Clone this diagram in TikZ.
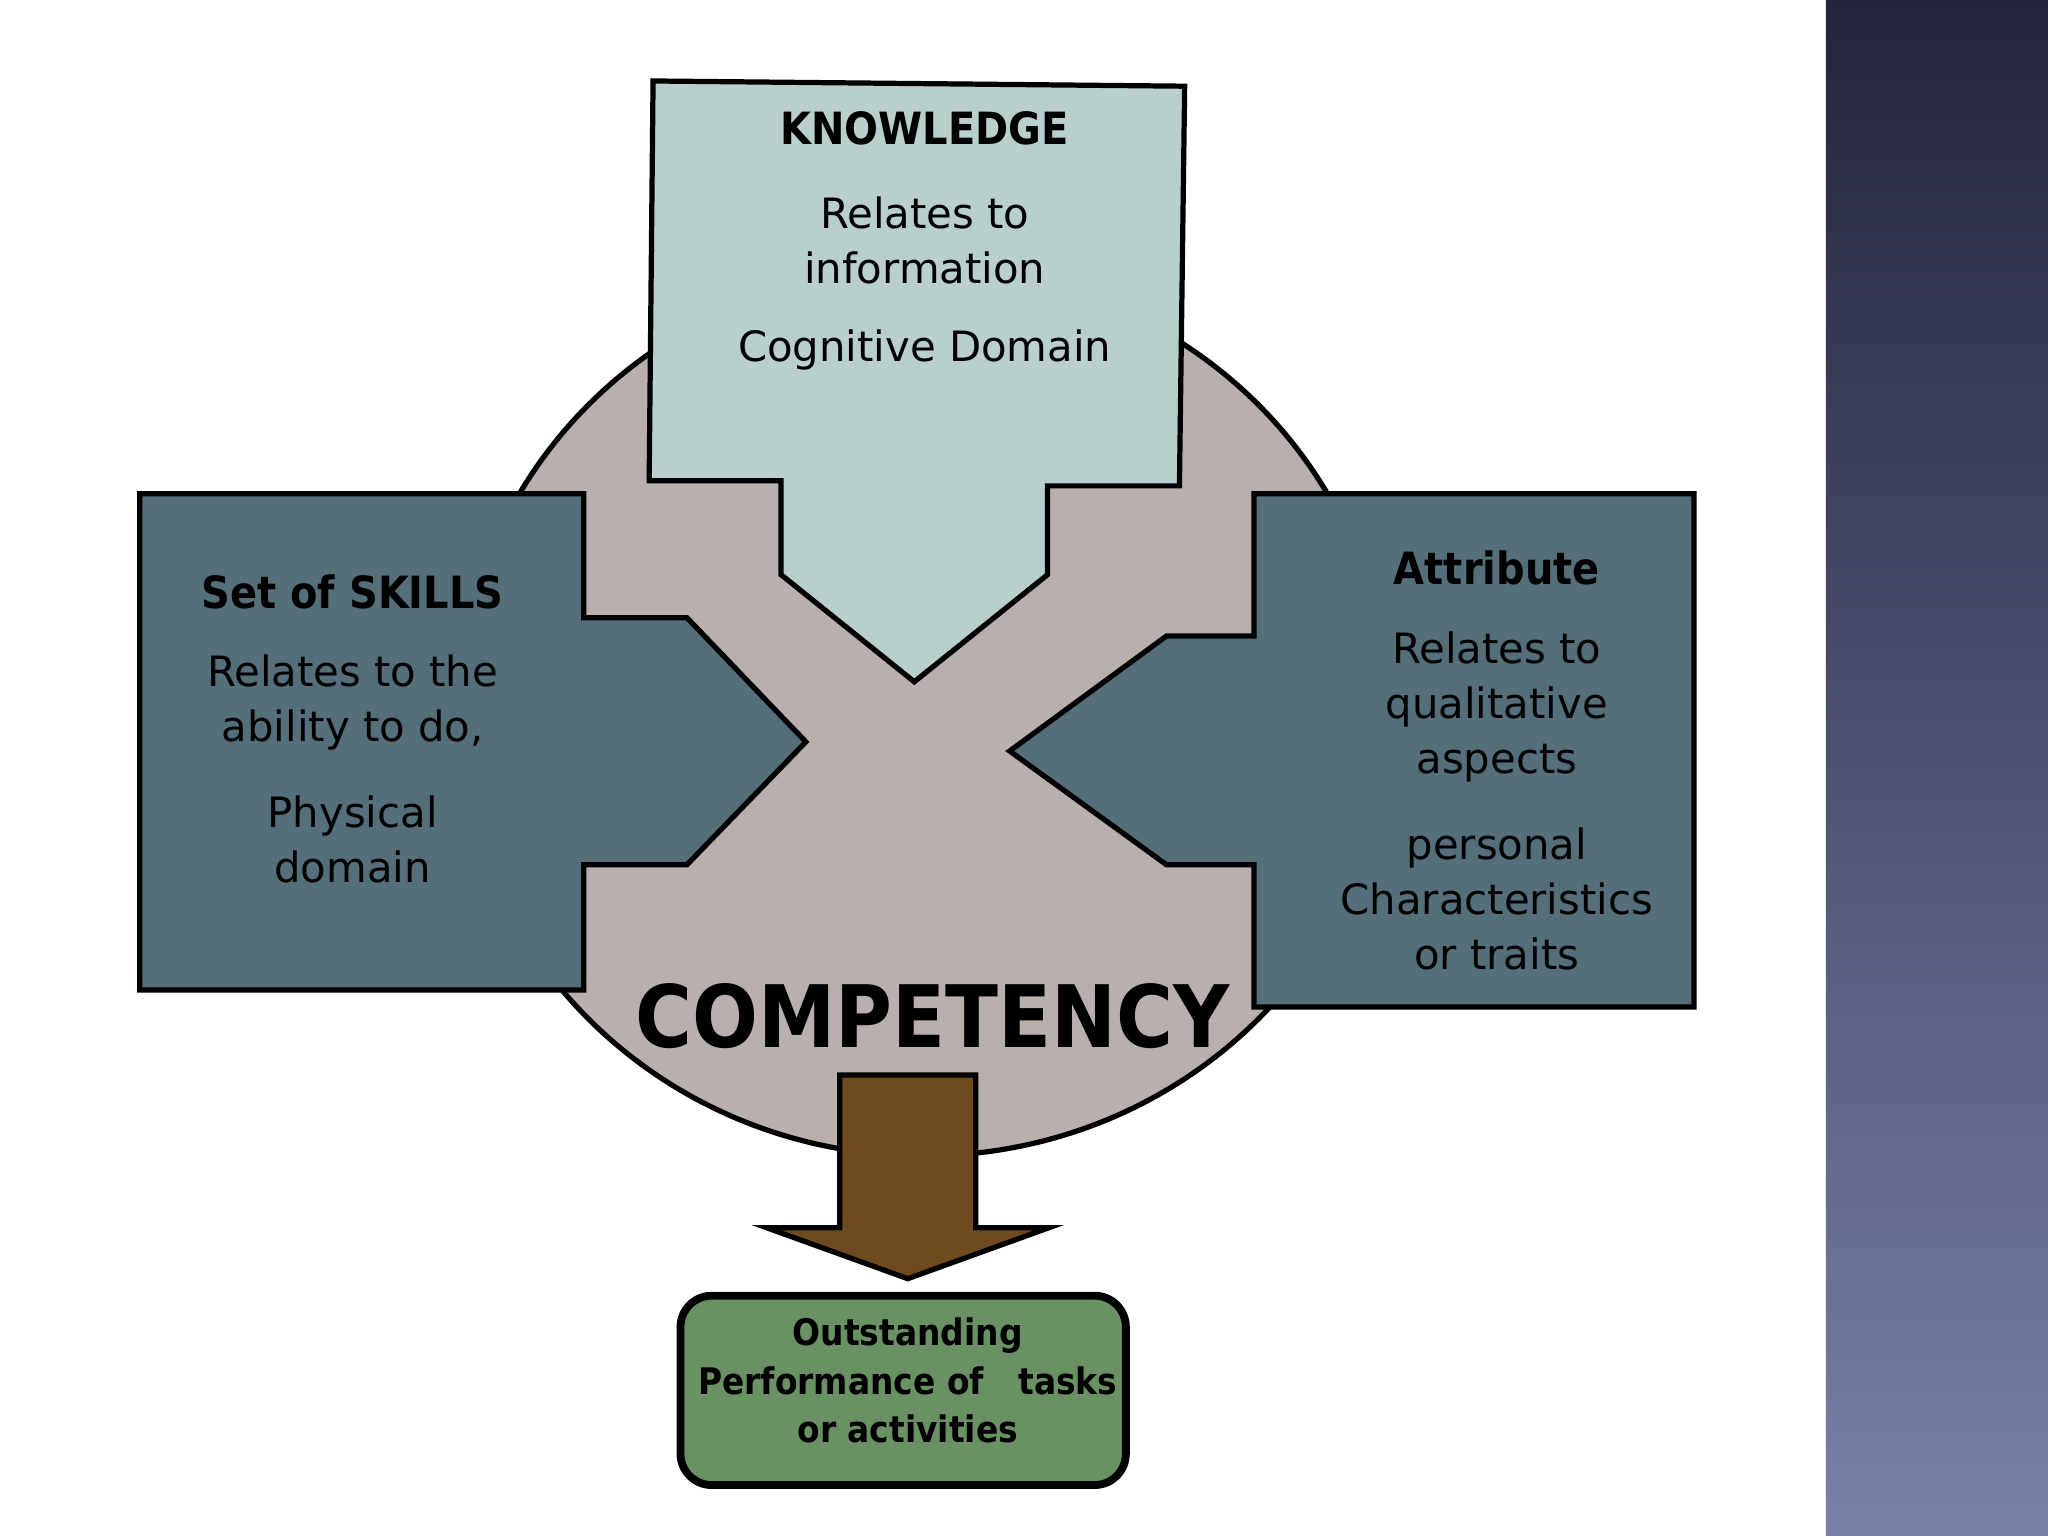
\documentclass[tikz,border=0pt]{standalone}
\usepackage{fontspec}
\setmainfont{DejaVu Sans}
\newfontfamily\condb{DejaVu Sans Condensed}[BoldFont={DejaVu Sans Condensed Bold}]
\begin{document}
\begin{tikzpicture}[x=0.5pt,y=-0.5pt,
  shp/.style={draw=black,line width=2pt,line join=miter},
  body/.style={align=center,font=\fontsize{16}{21}\selectfont},
  head/.style={font=\condb\bfseries\fontsize{17}{21}\selectfont}]
\useasboundingbox (0,0) rectangle (1568,1176);
\fill[white] (0,0) rectangle (1568,1176);
\shade[top color={rgb,255:red,35;green,37;blue,60}, bottom color={rgb,255:red,122;green,128;blue,168}] (1398,0) rectangle (1568,1176);
\definecolor{circ}{RGB}{185,175,173}
\definecolor{know}{RGB}{185,207,205}
\definecolor{slate}{RGB}{84,110,122}
\definecolor{brown}{RGB}{111,74,31}
\definecolor{grn}{RGB}{106,145,100}
\draw[shp,fill=circ] (707,545) ellipse [x radius=355, y radius=340];
\draw[shp,fill=know] (500,62)--(907,66)--(903,372)--(802,372)--(802,440)--(700,522)--(598,440)--(598,368)--(497,368)--cycle;
\draw[shp,fill=slate] (107,378)--(447,378)--(447,473)--(526,473)--(617,568)--(526,662)--(447,662)--(447,758)--(107,758)--cycle;
\draw[shp,fill=slate] (960,378)--(1297,378)--(1297,771)--(960,771)--(960,662)--(893,662)--(773,575)--(893,487)--(960,487)--cycle;
\draw[shp,fill=brown] (643,823)--(747,823)--(747,940)--(803,940)--(695,979)--(587,940)--(643,940)--cycle;
\draw[shp,line width=3pt,fill=grn,rounded corners=12pt] (521,992) rectangle (862,1137);
\node[head] (kh) at (708,98) {KNOWLEDGE};
\node[body] (kb) at (708,184) {Relates to\\information};
\node[body] (kc) at (708,268) {Cognitive Domain};
\node[head] (sh) at (270,453) {Set of SKILLS};
\node[body] (sb) at (270,538) {Relates to the\\ability to do,};
\node[body] (sc) at (270,643) {Physical\\domain};
\node[head] (ah) at (1146,435) {Attribute};
\node[body] (ab) at (1146,541) {Relates to\\qualitative\\aspects};
\node[body] (ac) at (1146,688) {personal\\Characteristics\\or traits};
\node[font=\condb\bfseries\fontsize{33}{36}\selectfont] (comp) at (714,778) {COMPETENCY};
\node[align=center,font=\condb\bfseries\fontsize{14}{18.5}\selectfont] (out) at (695,1057) {Outstanding\\Performance of~~ tasks\\or activities};
\end{tikzpicture}
\end{document}
